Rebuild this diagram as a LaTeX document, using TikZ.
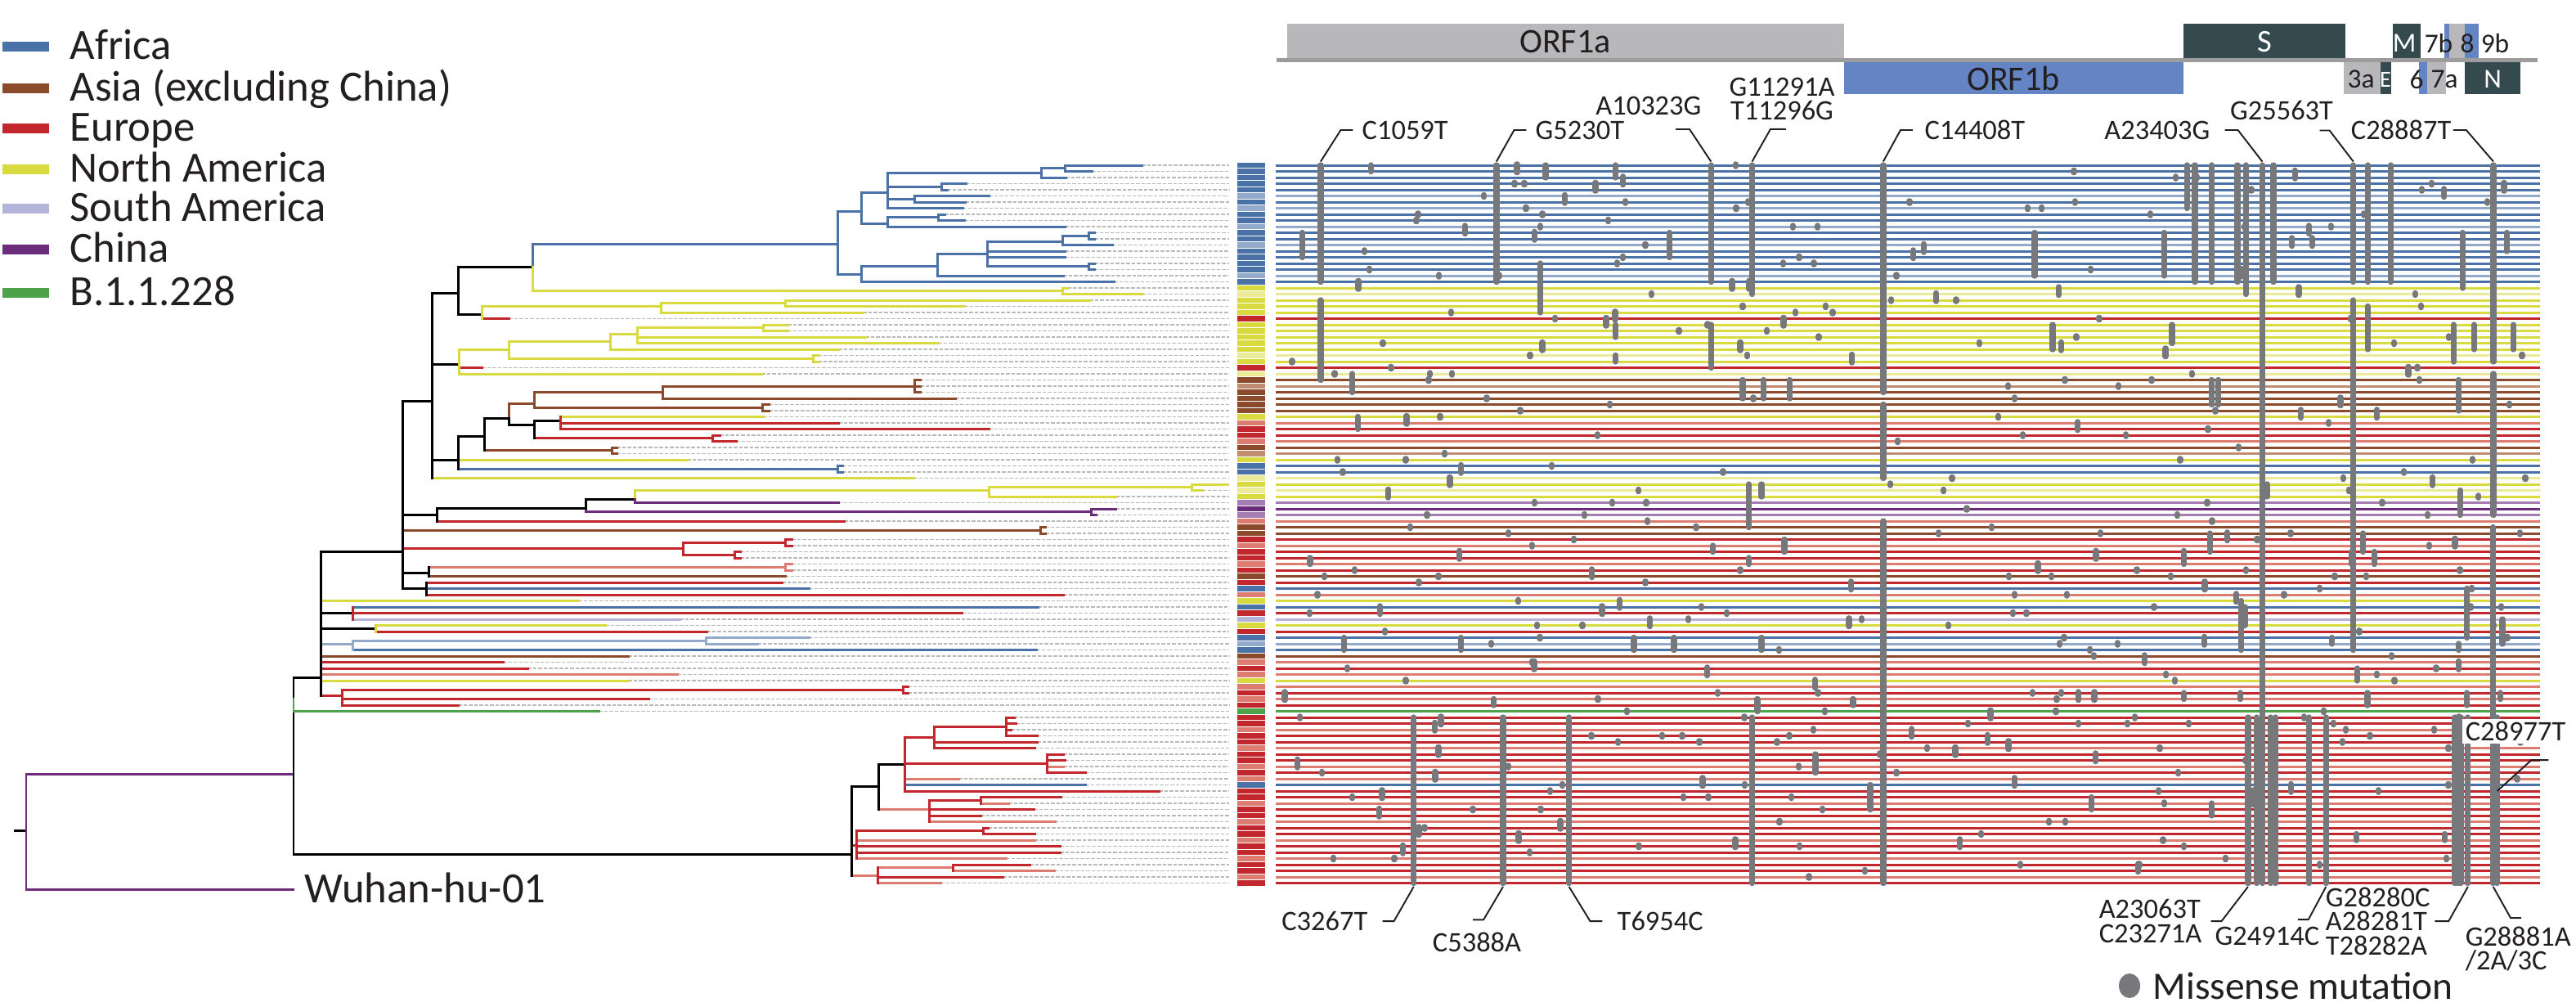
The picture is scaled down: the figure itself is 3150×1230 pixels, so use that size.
\documentclass[tikz,border=0pt]{standalone}
\usepackage{fontspec}
\setmainfont{Carlito}
\definecolor{cAf}{HTML}{4A72A6}
\definecolor{cAfl}{HTML}{93AACB}
\definecolor{cAs}{HTML}{8C4A2C}
\definecolor{cAsl}{HTML}{BF8D72}
\definecolor{cEu}{HTML}{C1272D}
\definecolor{cEul}{HTML}{DD7D72}
\definecolor{cNa}{HTML}{D9D940}
\definecolor{cNal}{HTML}{EAEA98}
\definecolor{cSa}{HTML}{B4B4DB}
\definecolor{cCn}{HTML}{6A2C7B}
\definecolor{cCnl}{HTML}{A57DB3}
\definecolor{cGr}{HTML}{4DA24B}
\definecolor{cMut}{HTML}{76787C}
\definecolor{cOrfa}{HTML}{B8B8BA}
\definecolor{cOrfb}{HTML}{6484C4}
\definecolor{cDk}{HTML}{344A4F}
\definecolor{cAxis}{HTML}{9C9C9C}
\definecolor{cTxt}{HTML}{231F20}
\tikzset{
  br/.style={line width=0.85pt, line cap=rect},
  rowln/.style={line width=0.85pt},
  barln/.style={line width=1.75pt},
  tipln/.style={gray!55, line width=0.3pt, dash pattern=on 0.45mm off 0.2mm},
  mut/.style={draw=cMut, line width=2.1pt, line cap=round},
  lead/.style={cTxt, line width=0.55pt},
  lbl/.style={inner sep=0pt, text=cTxt, font=\fontsize{9.8}{8.4}\selectfont},
  gtxt/.style={inner sep=0pt, text=cTxt, font=\fontsize{9.5}{10}\selectfont},
  leg/.style={inner sep=0pt, anchor=base west, text=cTxt, font=\fontsize{15}{18}\selectfont},
}
\begin{document}
\begin{tikzpicture}[x=0.1mm, y=-0.1mm]
\useasboundingbox (0,0) rectangle (3150,1230);

% legend
\foreach \c/\t/\y [count=\i] in {cAf/Africa/57, cAs/Asia (excluding China)/108, cEu/Europe/157,
    cNa/North America/207, cSa/South America/255, cCn/China/305, cGr/B.1.1.228/358} {
  \fill[\c] (3,\y-6) rectangle (60,\y+6);
  \node[leg] (leg\i) at (85,\y+15) {\t};
}

% tree (y in rows)
\begin{scope}[y=-0.75mm, yshift=-19.45mm]
  \foreach \r/\t in {1/1396,2/1335,3/1303,4/1181,5/1158,6/1209,7/1180,8/1177,9/1155,10/1179,
      11/1302,12/1338,13/1338,14/1360,15/1302,16/1302,17/1338,18/1338,19/1300,20/1362,
      21/1305,22/1397,23/1332,24/1179,25/1055,26/622,27/963,28/963,29/1058,30/1147,
      31/1025,32/1000,33/1000,34/589,35/931,36/1125,37/1125,38/1125,39/1168,40/940,
      41/940,42/933,43/1025,44/1209,45/880,46/900,47/754,48/754,49/840,50/1030,
      51/1030,52/1117,53/1500,54/1470,55/1364,56/1025,57/1364,58/1340,59/1032,60/1278,
      61/1278,62/968,63/968,64/905,65/905,66/968,67/968,68/960,69/956,70/989,
      71/1300,72/707,73/1269,74/1176,75/831,76/740,77/864,78/989,79/926,80/1267,
      81/768,82/615,83/645,84/828,85/768,86/1110,87/1110,88/793,89/560,90/732,
      91/1240,92/1242,93/1236,94/1268,95/1268,96/1265,97/1300,98/1302,99/1300,100/1327,
      101/1172,102/1327,103/1417,104/1297,105/1233,106/1264,107/1199,108/1290,109/1208,110/1265,
      111/1265,112/1296,113/1296,114/1230,115/1259,116/1289,117/1226,118/1150}
    \draw[tipln] (\t,\r) -- (1503,\r);
  % horizontal branches
  \foreach \c/\a/\b/\r in {
      cAf/651/1024/13.8, cAf/1024/1053/8.5, cAf/1024/1053/18.75, cAf/1053/1085/5.5, cAf/1053/1085/10.5,
      cAf/1085/1273/2.3, cAf/1273/1302/1.5, cAf/1302/1396/1, cAf/1302/1335/2, cAf/1273/1303/3,
      cAf/1085/1151/4.5, cAf/1151/1181/4, cAf/1151/1158/5, cAf/1085/1118/6.5, cAf/1118/1209/6,
      cAf/1118/1180/7, cAf/1085/1177/8, cAf/1085/1147/9.5, cAf/1147/1155/9, cAf/1147/1179/10,
      cAf/1085/1302/11, cAf/1053/1146/17.5, cAf/1053/1362/20, cAf/1146/1207/15.5, cAf/1146/1300/19,
      cAf/1207/1299/13.5, cAf/1207/1302/15, cAf/1207/1302/16, cAf/1207/1331/17.5, cAf/1299/1331/12.5,
      cAf/1299/1360/14, cAf/1331/1338/12, cAf/1331/1338/13, cAf/1331/1338/17, cAf/1331/1338/18,
      cAf/560/1024/50.5, cAf/1024/1030/50, cAf/1024/1030/51, cAf/521/989/70, cAf/431/1269/73,
      cAf/431/1267/80, cAf/1106/1327/102,
      cAfl/392/431/79, cAfl/431/863/78.5, cAfl/863/989/78, cAfl/863/926/79,
      cNa/651/1299/21.5, cNa/1299/1305/21, cNa/1299/1397/22, cNa/589/808/24, cNa/808/960/23.5,
      cNa/960/1332/23, cNa/960/1179/24, cNa/808/1055/25, cNa/561/622/31.1, cNa/622/746/29.75,
      cNa/746/779/28.5, cNa/779/933/27.5, cNa/933/963/27, cNa/933/963/28, cNa/779/1058/29,
      cNa/779/1147/30, cNa/746/1025/31, cNa/622/994/32.5, cNa/994/1000/32, cNa/994/1000/33,
      cNa/561/931/35, cNa/685/933/42, cNa/560/840/49, cNa/528/1117/52, cNa/776/1209/54,
      cNa/1209/1457/53.5, cNa/1457/1500/53, cNa/1457/1470/54, cNa/1209/1364/55, cNa/392/707/72,
      cNa/459/740/76, cNa/392/768/85,
      cEu/589/622/26, cEu/561/589/34, cEu/685/1025/43, cEu/685/1209/44, cEu/653/871/45.5,
      cEu/871/880/45, cEu/871/900/46, cEu/534/1032/59, cEu/492/835/63.5, cEu/835/960/62.5,
      cEu/960/968/62, cEu/960/968/63, cEu/835/898/64.5, cEu/898/905/64, cEu/898/905/65,
      cEu/521/956/69, cEu/521/1300/71, cEu/431/1176/74, cEu/459/864/77, cEu/392/615/82,
      cEu/392/645/83, cEu/392/418/87.5, cEu/418/1104/86.5, cEu/1104/1110/86, cEu/1104/1110/87,
      cEu/418/793/88, cEu/418/560/89, cEu/1106/1142/94.25, cEu/1142/1230/92.5, cEu/1230/1240/91,
      cEu/1230/1242/92, cEu/1230/1236/93, cEu/1230/1268/94, cEu/1142/1268/95, cEu/1142/1265/96,
      cEu/1106/1280/98.5, cEu/1280/1300/97, cEu/1280/1302/98, cEu/1280/1327/100, cEu/1106/1417/103,
      cEu/1136/1199/104.5, cEu/1199/1297/104, cEu/1136/1264/106, cEu/1136/1199/107, cEu/1041/1047/111.8,
      cEu/1047/1202/109.5, cEu/1202/1208/109, cEu/1202/1265/110, cEu/1047/1296/112, cEu/1047/1296/113,
      cEu/1165/1259/115, cEu/1073/1226/117,
      cEul/524/960/66.5, cEul/960/968/66, cEul/960/968/67, cEul/392/828/84, cEul/1106/1172/101,
      cEul/1280/1300/99, cEul/1074/1136/106, cEul/1199/1233/105, cEul/1136/1290/108, cEul/1047/1265/111,
      cEul/1047/1230/114, cEul/1041/1073/116.8, cEul/1073/1165/115.5, cEul/1165/1289/116, cEul/1073/1150/118,
      cAs/622/653/39.8, cAs/653/810/38, cAs/810/1118/37, cAs/1118/1125/36, cAs/1118/1125/37,
      cAs/1118/1125/38, cAs/810/1168/39, cAs/653/932/40.5, cAs/932/940/40, cAs/932/940/41,
      cAs/592/748/47.5, cAs/748/754/47, cAs/748/754/48, cAs/492/1272/60.5, cAs/1272/1278/60,
      cAs/1272/1278/61, cAs/524/960/68, cAs/392/768/81,
      cCn/776/1025/56, cCn/716/1334/57.5, cCn/1334/1364/57, cCn/1334/1340/58,
      cCn/32/359/100.2, cCn/32/359/119.1,
      cSa/431/831/75, cGr/359/732/90,
      black/359/392/84.5, black/359/1041/113.3, black/392/492/64, black/492/528/39.4, black/528/560/21.9,
      black/560/651/17.6, black/560/589/25.3, black/528/561/33.5, black/528/560/49.1, black/560/592/45.2,
      black/592/622/42.3, black/622/653/43.3, black/653/685/42.7, black/492/534/58, black/534/716/56.9,
      black/716/776/55.5, black/492/524/67.5, black/492/521/70, black/392/431/74, black/392/459/76.5,
      black/1041/1074/102.3, black/1074/1106/98.6, black/18/32/109.5}
    \draw[br,\c] (\a,\r) -- (\b,\r);
  % vertical branches
  \foreach \c/\x/\a/\b in {
      cAf/651/13.8/17.6, cAf/1024/8.5/18.75, cAf/1053/5.5/10.5, cAf/1053/17.5/20, cAf/1085/2.3/8,
      cAf/1273/1.5/3, cAf/1302/1/2, cAf/1151/4/5, cAf/1118/6/7, cAf/1085/9.5/11, cAf/1147/9/10,
      cAf/1146/15.5/19, cAf/1207/13.5/17.5, cAf/1299/12.5/14, cAf/1331/12/13, cAf/1331/17/18,
      cAf/1024/50/51, cAfl/431/78.5/80, cAfl/863/78/79,
      cNa/651/17.6/21.5, cNa/1299/21/22, cNa/589/24/26, cNa/808/23.5/25, cNa/960/23/24,
      cNa/561/31.1/35, cNa/622/29.75/32.5, cNa/746/28.5/31, cNa/779/27.5/30, cNa/933/27/28,
      cNa/994/32/33, cNa/1209/53.5/55, cNa/1457/53/54, cNa/776/54/55.5, cNa/459/76/77,
      cEu/685/42/44, cEu/871/45/46, cEu/835/62.5/64.5, cEu/960/62/63, cEu/898/64/65,
      cEu/418/86.5/89, cEu/1104/86/87, cEu/1142/92.5/96, cEu/1230/91/94, cEu/1106/94.25/103,
      cEu/1280/97/100, cEu/1199/104/105, cEu/1136/104.5/108, cEu/1047/109.5/114, cEu/1202/109/110,
      cEu/1073/115.5/118, cEu/1165/115/116, cEu/431/73/75, cEul/960/66/67,
      cAs/622/39.8/42.3, cAs/653/38/40.5, cAs/810/37/39, cAs/1118/36/38, cAs/932/40/41,
      cAs/748/47/48, cAs/1272/60/61,
      cCn/716/56.9/57.5, cCn/776/55.5/56, cCn/1334/57/58, cCn/32/100.2/119.1,
      black/359/84.5/113.3, black/392/64/87.5, black/492/39.4/70, black/528/21.9/52,
      black/560/17.6/25.3, black/560/45.2/50.5, black/592/42.3/47.5, black/622/42.3/43.3,
      black/653/42.7/45.5, black/534/56.9/59, black/716/55.5/56.9, black/524/66.5/68,
      black/521/69/71, black/1041/102.3/116.8, black/1074/98.6/106, cGr/359/88/90}
    \draw[br,\c] (\x,\a) -- (\x,\b);
\end{scope}
\node[leg] (wuhan) at (372,1103) {Wuhan-hu-01};

% genome map
\fill[cOrfa] (1574,29) rectangle (2255,72);
\fill[cOrfb] (2255,76) rectangle (2670,115);
\fill[cDk] (2670,29) rectangle (2868,72);
\fill[cOrfa] (2866,76) rectangle (2911,115);
\fill[cDk] (2911,76) rectangle (2924,115);
\fill[cDk] (2926,29) rectangle (2960,72);
\fill[cOrfb] (2958,76) rectangle (2968,115);
\fill[cOrfa] (2968,76) rectangle (2991,115);
\fill[cOrfb] (2989,29) rectangle (2995,72);
\fill[cOrfa] (2995,29) rectangle (3014,72);
\fill[cOrfb] (3014,29) rectangle (3031,72);
\fill[cDk] (3014,76) rectangle (3082,115);
\draw[cAxis, line width=1.2pt] (1561,73.5) -- (3103,73.5);
\node[gtxt, font=\fontsize{12}{13}\selectfont] (orf1a) at (1914,51) {ORF1a};
\node[gtxt, font=\fontsize{12}{13}\selectfont] (orf1b) at (2462,96) {ORF1b};
\node[gtxt, text=white, font=\fontsize{11}{12}\selectfont] (sgene) at (2769,51) {S};
\node[gtxt, text=white] (mgene) at (2940,53) {M};
\node[gtxt] (g7b) at (2982,53) {7b};
\node[gtxt] (g8) at (3017,53) {8};
\node[gtxt] (g9b) at (3051,53) {9b};
\node[gtxt] (g3a) at (2887,97) {3a};
\node[gtxt, text=white, font=\fontsize{8}{9}\selectfont] (egene) at (2917,97) {E};
\node[gtxt] (g6) at (2955,97) {6};
\node[gtxt] (g7a) at (2989,97) {7a};
\node[gtxt, text=white] (ngene) at (3048,97) {N};

% mutation matrix (x in nucleotides, y in rows)
\begin{scope}[x=0.00515mm, xshift=156.03mm, y=-0.75mm, yshift=-19.45mm]
  \foreach \r/\c in {1/cAf,2/cAf,3/cAf,4/cAf,5/cAf,6/cAfl,7/cAf,8/cAfl,9/cAf,10/cAf,
      11/cAfl,12/cAf,13/cAf,14/cAfl,15/cAf,16/cAf,17/cAf,18/cAf,19/cAfl,20/cAf,
      21/cNa,22/cNal,23/cNa,24/cNa,25/cNa,26/cEu,27/cNa,28/cNa,29/cNa,30/cNa,
      31/cNa,32/cNal,33/cNa,34/cEu,35/cNal,36/cAs,37/cAsl,38/cAs,39/cAs,40/cAs,
      41/cAs,42/cNa,43/cEul,44/cEu,45/cEu,46/cEul,47/cAs,48/cAsl,49/cNa,50/cAf,
      51/cAf,52/cNal,53/cNa,54/cNal,55/cNa,56/cCnl,57/cCn,58/cCnl,59/cEul,60/cAs,
      61/cAs,62/cEu,63/cEul,64/cEu,65/cEu,66/cEul,67/cEu,68/cAs,69/cEu,70/cAf,
      71/cEul,72/cNa,73/cAf,74/cEu,75/cSa,76/cNa,77/cEu,78/cAf,79/cAfl,80/cAf,
      81/cAs,82/cEul,83/cEu,84/cEul,85/cNa,86/cEul,87/cEu,88/cEul,89/cEu,90/cGr,
      91/cEu,92/cEu,93/cEul,94/cEu,95/cEu,96/cEul,97/cEu,98/cEu,99/cEul,100/cEu,
      101/cEul,102/cAf,103/cEu,104/cEu,105/cEul,106/cEu,107/cEu,108/cEul,109/cEu,110/cEu,
      111/cEul,112/cEu,113/cEu,114/cEul,115/cEu,116/cEu,117/cEul,118/cEu} {
    \draw[rowln,\c] (0,\r) -- (29994,\r);
    \draw[barln,\c] (-918,\r) -- (-258,\r);
  }
  % shared mutations
  \foreach \n/\a/\b in {1059/1/20, 1059/23/36, 5230/1/20, 10323/1/20, 10323/27/34, 11296/1/22,
      14408/1/38, 14408/40/52, 14408/59/118, 21614/1/8, 21801/1/20, 22206/1/20, 22813/1/20,
      23012/1/22, 23403/1/118, 23664/1/20, 25563/1/20, 25563/23/80, 25904/1/20, 25904/24/31,
      26456/1/20, 28887/1/33, 28887/35/58, 28881/60/118,
      3267/91/118, 5388/91/118, 6954/91/118, 11296/91/118, 23063/91/118, 23271/91/118,
      23604/91/118, 23709/91/118, 24506/91/118, 24914/91/118, 27972/91/118, 28048/91/118,
      28111/91/118, 28280/91/118, 28977/91/118,
      1810/35/38, 1940/42/44, 6270/17/25, 9340/12/16, 620/12/16, 8060/1/3, 8060/27/29,
      8060/32/33, 6400/1/3, 2250/1/2, 11070/36/39, 11570/36/39, 12190/36/39, 11220/53/60,
      11520/53/55, 18000/12/19, 21070/12/19, 28155/12/21, 27940/27/33, 28430/27/31,
      28060/36/41, 18430/27/31, 21260/27/30, 29200/12/15, 29360/27/31, 28100/54/58,
      23510/53/55, 22200/36/40, 22360/36/40, 12800/97/100, 14100/102/106, 12060/62/64,
      10370/63/64, 810/65/66, 11220/65/66, 1610/78/80, 4390/78/80, 8490/78/80, 9440/78/80,
      11520/78/80, 5170/88/89, 11420/88/90, 13690/88/89, 22160/61/64, 25790/61/64,
      25520/64/66, 26060/64/66, 21540/65/66, 22900/72/80, 22990/73/76, 25050/78/79,
      28260/70/78, 28060/79/80, 29100/75/79, 25650/83/85, 25900/87/89, 21540/87/88,
      22880/87/88, 28260/87/89, 29050/87/88, 19350/104/106, 22200/105/107, 25630/110/111,
      27730/110/111}
    \draw[mut] (\n,\a) -- (\n,\b);
  % single missense mutations
  \pgfmathsetseed{2021}
  \foreach \k in {1,...,360} {
    \pgfmathrandominteger{\rr}{1}{117}
    \pgfmathrandominteger{\nn}{150}{29800}
    \pgfmathrandominteger{\ll}{0}{3}
    \pgfmathsetmacro{\ee}{\rr+0.15+(\ll>2)}
    \draw[mut] (\nn,\rr-0.15) -- (\nn,\ee);
  }
  \foreach \n in {1059,5230,10323,11296,14408,23403,25563,28887}
    \coordinate (t\n) at (\n,0.4);
  \foreach \n in {3267,5388,6954,23063,24914,28281,28881}
    \coordinate (b\n) at (\n,118.6);
  \coordinate (m28977) at (28977,103);
\end{scope}

% mutation labels
\node[lbl, anchor=west] (c1059) at (1665,159) {C1059T};
\node[lbl, anchor=west] (g5230) at (1877,159) {G5230T};
\node[lbl, anchor=east] (a10323) at (2081,129) {A10323G};
\node[lbl, align=center] (g11291) at (2179,121) {G11291A\\T11296G};
\node[lbl, anchor=west] (c14408) at (2353,159) {C14408T};
\node[lbl, anchor=east] (a23403) at (2703,159) {A23403G};
\node[lbl] (g25563) at (2790,135) {G25563T};
\node[lbl, anchor=east] (c28887) at (2998,159) {C28887T};
\draw[lead] ([xshift=-3pt]c1059.west) -- ++(-15,0) -- (t1059);
\draw[lead] ([xshift=-3pt]g5230.west) -- ++(-15,0) -- (t5230);
\draw[lead] ([shift={(-32,17)}]a10323.south east) -- ++(17,0) -- (t10323);
\draw[lead] ([shift={(5,10)}]g11291.south) -- ++(-19,0) -- (t11296);
\draw[lead] ([xshift=-4pt]c14408.west) -- ++(-15,0) -- (t14408);
\draw[lead] ([xshift=5pt]a23403.east) -- ++(16,0) -- (t23403);
\draw[lead] ([shift={(-17,12)}]g25563.south east) -- ++(12,0) -- (t25563);
\draw[lead] ([xshift=0.5pt]c28887.east) -- ++(16,0) -- (t28887);

\node[lbl, anchor=east] (c3267) at (1673,1126) {C3267T};
\node[lbl] (c5388) at (1806,1152) {C5388A};
\node[lbl, anchor=west] (t6954) at (1977,1126) {T6954C};
\node[lbl, anchor=east, align=left] (a23063) at (2693,1126) {A23063T\\C23271A};
\node[lbl, anchor=west] (g24914) at (2708,1144) {G24914C};
\node[lbl, anchor=east, align=left] (g28280) at (2972,1126) {G28280C\\A28281T\\T28282A};
\node[lbl, anchor=west, align=left] (g28881) at (3014,1160) {G28881A\\/2A/3C};
\node[lbl, fill=white, inner sep=1pt] (c28977) at (3076,894) {C28977T};
\draw[lead] ([xshift=5pt]c3267.east) -- ++(14,0) -- (b3267);
\draw[lead] ([shift={(-5,-15)}]c5388.north) -- ++(13,0) -- (b5388);
\draw[lead] ([xshift=-5pt]t6954.west) -- ++(-15,0) -- (b6954);
\draw[lead] ([xshift=3pt]a23063.east) -- ++(13,0) -- (b23063);
\draw[lead] ([shift={(-27,-8)}]g24914.north east) -- ++(13,0) -- (b24914);
\draw[lead] ([xshift=1.5pt]g28280.east) -- ++(17,0) -- (b28281);
\draw[lead] (b28881) -- ([shift={(56,-10)}]g28881.north west) -- ++(13,0);
\draw[lead] ([shift={(-25,19)}]c28977.south east) -- ++(-21,0) -- (m28977);

% key
\fill[cMut] (2604,1205) ellipse [x radius=1.3mm, y radius=1.5mm];
\node[anchor=west, inner sep=0pt, text=cTxt, font=\fontsize{13.5}{15}\selectfont] (missense) at (2632,1205) {Missense mutation};
\end{tikzpicture}
\end{document}
